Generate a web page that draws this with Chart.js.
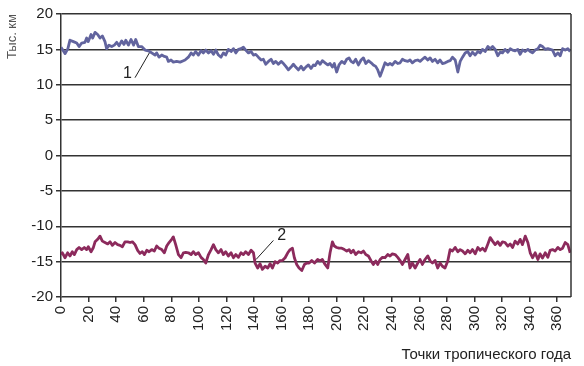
<!DOCTYPE html>
<html>
<head>
<meta charset="utf-8">
<script src="https://cdn.jsdelivr.net/npm/chart.js@4"></script>
<style>
  body { margin: 0; background: #fff; }
  #wrap { width: 584px; height: 366px; }
</style>
</head>
<body>
<div id="wrap"><canvas id="line_chart"></canvas></div>
<script>
// data: [point, thousand km]
const curve1 = [
  [0,15.3],[3,14.4],[5,15.1],[6.5,16.3],[9,16.1],[11.4,15.9],[13.1,15.4],[15,15.9],[17.4,16.0],[18.6,16.6],
  [19.8,16.1],[21.8,17.1],[23,16.6],[24.7,17.4],[26.6,17.1],[28.3,16.6],[30,16.9],[31.9,16.1],[33.1,15.1],[34.8,15.6],
  [36.8,15.4],[38.7,15.6],[40.4,16.0],[42.1,15.5],[44,16.2],[45.7,15.7],[47,16.3],[48.9,15.6],[50.8,16.4],[52.7,15.6],
  [54.2,16.4],[56.1,15.4],[58.5,15.4],[61,14.9],[63.4,14.8],[65.8,14.5],[68.2,14.2],[69.4,14.5],[71.1,13.9],[73.1,14.2],
  [75,14.0],[76.7,13.9],[77.9,13.3],[79.8,13.5],[81.5,13.2],[83.9,13.3],[86.4,13.2],[88.8,13.4],[90,13.5],[92.4,13.9],
  [94.4,14.5],[96,14.2],[97.7,14.7],[99.7,14.2],[101.6,14.8],[103.3,14.5],[105,14.9],[107,14.5],[108.9,14.8],[110.6,14.3],
  [112.3,14.9],[114.2,14.2],[116.1,13.9],[117.8,14.5],[119.5,14.2],[121.4,15.0],[123.4,14.7],[125.1,15.1],[126.8,14.5],[128.7,15.0],
  [130.6,15.1],[132.3,15.3],[134,14.9],[136,14.5],[137.9,14.7],[139.6,14.2],[141.3,14.3],[143.2,13.9],[145.2,13.5],[146.8,13.6],
  [148.5,12.9],[150.5,13.3],[152.4,13.6],[154.1,13.0],[155.8,13.3],[157.7,12.9],[159.7,13.3],[161.4,13.0],[163.1,12.6],[165,12.1],
  [166.9,12.5],[168.6,12.9],[170.3,12.5],[172.2,12.1],[174.2,12.6],[175.9,12.1],[177.6,12.5],[179.5,12.8],[181.4,12.3],[183.1,12.8],
  [184.3,12.7],[186.2,13.3],[188,12.9],[189.6,13.4],[191.6,13.1],[193.5,12.8],[195.2,13.0],[196.9,12.5],[198.3,13.0],[200,11.8],
  [201.7,12.8],[203.7,13.3],[205.6,13.0],[207.3,13.6],[209,13.8],[210.4,13.3],[212.1,13.1],[213.8,13.6],[215.8,12.8],[217.7,13.5],
  [219.4,13.8],[221.1,13.0],[223,13.4],[225,13.1],[226.6,12.8],[228.3,12.6],[229.8,12.1],[231.5,11.2],[233.2,12.1],[235.1,13.1],
  [237,12.8],[238.7,13.0],[240.4,12.8],[242.4,13.3],[244.3,13.0],[246,13.1],[247.7,13.6],[249.6,13.4],[251.6,13.3],[253.2,13.5],
  [254.9,13.1],[256.9,13.4],[258.8,13.5],[260.5,13.3],[262.2,13.6],[264.1,13.9],[266.1,13.5],[267.8,13.8],[269.5,13.3],[271.4,13.6],
  [273.3,13.1],[275,13.5],[276.7,13.0],[278.7,13.1],[280.6,13.3],[282.3,13.4],[284,13.9],[286,13.5],[287.9,11.8],[289.6,13.3],
  [291.3,13.9],[293.2,14.5],[295.1,14.7],[296.8,14.1],[298.5,14.6],[300.5,14.2],[302.4,14.7],[304.1,14.5],[305.8,15.0],[307.7,14.7],
  [309.7,15.4],[311.4,15.1],[313.1,15.4],[315,15.0],[316.9,14.1],[318.6,14.6],[320.3,14.5],[322.2,15.0],[324.2,14.6],[325.9,15.1],
  [327.6,14.9],[329.5,14.8],[331.4,15.0],[333.1,14.3],[334.8,14.9],[336.8,14.7],[338.7,15.0],[340.4,14.7],[342.1,14.5],[344,14.9],
  [346,15.1],[347.6,15.6],[349.3,15.4],[351.3,15.0],[353.2,15.1],[354.9,15.0],[356.6,14.9],[358.5,14.1],[360.5,14.5],[362.2,14.1],
  [363.9,15.1],[365.8,14.9],[367.7,15.1],[369.4,14.7]
];

const curve2 = [
  [0,-14.0],[1,-13.75],[2.9,-14.45],[4.8,-13.75],[6.5,-14.2],[8.2,-13.6],[9.7,-14.0],[11.4,-13.3],[13.1,-13.0],[15,-13.3],
  [16.9,-13.0],[18.6,-13.3],[19.8,-12.9],[21.8,-13.6],[23.5,-13.0],[24.7,-12.2],[26.6,-11.85],[28.3,-11.4],[30,-12.1],[31.9,-12.3],
  [33.9,-12.5],[35.6,-12.2],[37.3,-12.7],[39.2,-12.3],[41.1,-12.6],[42.8,-12.7],[44.5,-12.9],[46.4,-12.2],[48.4,-12.2],[50.1,-12.3],
  [51.8,-12.2],[53.7,-12.6],[55.6,-13.4],[57.3,-13.85],[59,-13.6],[60.5,-14.0],[62.2,-13.4],[63.9,-13.6],[65.8,-13.3],[67.7,-13.5],
  [69.4,-12.8],[71.1,-13.1],[73.1,-13.3],[75,-13.75],[76.7,-12.8],[78.4,-12.3],[80.3,-11.85],[81.5,-11.5],[83.2,-12.6],[85.2,-14.0],
  [87.1,-14.45],[88.8,-13.75],[90.5,-13.7],[92.4,-13.75],[94.4,-14.0],[96,-13.6],[97.7,-14.0],[99.7,-13.75],[101.6,-14.4],[103.3,-14.7],
  [105,-15.2],[107,-14.0],[108.9,-13.3],[110.6,-12.6],[112.3,-13.3],[114.2,-13.75],[116.1,-13.3],[117.8,-14.0],[119.5,-13.6],[121.4,-14.2],
  [123.4,-13.75],[125.1,-14.45],[126.8,-14.0],[128.7,-14.4],[130.6,-13.75],[132.3,-14.0],[134,-13.6],[136,-14.0],[137.9,-13.4],[139.6,-13.75],
  [140.8,-15.2],[142.7,-15.9],[144.4,-15.3],[146.1,-16.1],[148.1,-15.65],[150,-15.9],[151.7,-15.3],[153.4,-15.9],[155.3,-15.0],[157.2,-15.2],
  [158.9,-14.85],[160.6,-14.85],[162.6,-14.45],[164.5,-13.75],[166.2,-13.3],[167.9,-13.1],[169.3,-14.45],[171,-15.4],[172.7,-15.9],[174.7,-16.25],
  [176.6,-15.4],[178.3,-15.2],[180,-15.2],[181.9,-14.85],[183.9,-15.2],[186.2,-14.7],[188,-14.9],[189.6,-14.7],[191.6,-15.4],[193.5,-15.9],
  [195.2,-13.75],[196.9,-12.2],[198.3,-12.8],[200,-13.0],[201.7,-13.1],[203.7,-13.1],[205.6,-13.3],[207.3,-13.5],[209,-13.3],[210.4,-13.75],
  [212.1,-13.4],[213.8,-14.0],[215.8,-13.6],[217.7,-13.75],[219.4,-13.5],[221.1,-14.0],[223,-14.2],[225,-14.9],[226.6,-15.4],[228.3,-14.9],
  [229.8,-15.4],[231.5,-14.7],[233.2,-14.4],[235.1,-14.45],[237,-14.0],[238.7,-14.2],[240.4,-13.9],[242.4,-14.0],[244.3,-14.4],[246,-14.85],
  [247.7,-15.4],[249.6,-14.7],[251.6,-14.0],[253.2,-15.9],[254.9,-15.2],[256.9,-15.9],[258.8,-15.2],[260.5,-14.7],[262.2,-15.4],[264.1,-14.7],
  [266.1,-14.2],[267.8,-14.9],[269.5,-15.2],[271.4,-14.85],[273.3,-15.9],[275,-15.2],[276.7,-15.65],[278.6,-15.9],[280.6,-14.9],[282.3,-13.3],
  [284,-13.5],[286,-13.0],[287.9,-13.6],[289.6,-13.3],[291.3,-13.5],[293.2,-13.9],[295.1,-13.4],[296.8,-13.75],[298.5,-13.3],[300.5,-13.9],
  [302.4,-13.0],[304.1,-13.4],[305.8,-13.1],[307.7,-13.5],[309.7,-12.5],[311.4,-11.6],[313.1,-12.1],[315,-12.6],[316.9,-12.2],[318.6,-12.7],
  [320.3,-12.2],[322.2,-12.3],[324.2,-12.8],[325.9,-12.5],[327.6,-13.0],[329.5,-12.1],[331.4,-12.5],[333.1,-11.85],[334.8,-12.6],[336.8,-11.4],
  [338.7,-12.3],[340.4,-13.75],[342.1,-14.45],[344,-13.75],[346,-14.7],[347.6,-13.9],[349.3,-14.5],[351.3,-13.75],[353.2,-14.4],[354.9,-13.4],
  [356.6,-13.3],[358.5,-13.5],[360.5,-13.0],[362.2,-13.3],[363.9,-13.1],[365.8,-12.3],[367.7,-12.6],[369.4,-13.75]
];

const xTicks = [0,20,40,60,80,100,120,140,160,180,200,220,240,260,280,300,320,340,360];
const yTicks = [-20,-15,-10,-5,0,5,10,15,20];

// curve labels with leader lines, in data units: [text, textX, textY, fromX, fromY, toX, toY]
const curveLabels = [
  ["1", 51.5, 11.6, 53.7, 11.0, 64.1, 14.5],
  ["2", 156.8, -11.3, 154.1, -12.0, 141.5, -14.7]
];

const FONT = 'Arial, "Liberation Sans", sans-serif';

const labelPlugin = {
  id: 'curveLabels',
  afterDatasetsDraw(chart) {
    const ctx = chart.ctx, xs = chart.scales.x, ys = chart.scales.y;
    const area = chart.chartArea;
    ctx.save();
    // right frame line
    ctx.strokeStyle = '#333';
    ctx.lineWidth = 1.5;
    ctx.beginPath();
    ctx.moveTo(area.right, area.top);
    ctx.lineTo(area.right, area.bottom);
    ctx.stroke();

    ctx.lineWidth = 1;
    ctx.strokeStyle = '#222';
    ctx.fillStyle = '#222';
    ctx.font = '16px ' + FONT;
    ctx.textBaseline = 'middle';
    curveLabels.forEach(l => {
      ctx.beginPath();
      ctx.moveTo(xs.getPixelForValue(l[3]), ys.getPixelForValue(l[4]));
      ctx.lineTo(xs.getPixelForValue(l[5]), ys.getPixelForValue(l[6]));
      ctx.stroke();
      ctx.textAlign = l[0] === "1" ? 'right' : 'left';
      ctx.fillText(l[0], xs.getPixelForValue(l[1]), ys.getPixelForValue(l[2]));
    });
    ctx.restore();
  }
};

function toPoints(arr) {
  return arr.map(p => ({ x: p[0], y: p[1] }));
}

new Chart(document.getElementById('line_chart').getContext('2d'), {
  type: 'line',
  data: {
    datasets: [{
      label: '1',
      data: toPoints(curve1),
      borderColor: '#62649e',
      borderWidth: 2.8,
      pointRadius: 0,
      tension: 0,
      borderJoinStyle: 'round'
    }, {
      label: '2',
      data: toPoints(curve2),
      borderColor: '#8c2a5c',
      borderWidth: 2.8,
      pointRadius: 0,
      tension: 0,
      borderJoinStyle: 'round'
    }]
  },
  options: {
    responsive: true,
    maintainAspectRatio: false,
    animation: false,
    layout: { padding: { left: 5, right: 13, top: 14, bottom: 0 } },
    plugins: { legend: { display: false }, tooltip: { enabled: false } },
    scales: {
      x: {
        type: 'linear',
        min: 0,
        max: 370,
        afterBuildTicks: axis => { axis.ticks = xTicks.map(v => ({ value: v })); },
        afterFit: scale => { scale.height = 69; },
        ticks: {
          autoSkip: false,
          minRotation: 90,
          maxRotation: 90,
          color: '#222',
          padding: 4,
          font: { family: FONT, size: 15 }
        },
        grid: {
          drawOnChartArea: false,
          color: '#333',
          lineWidth: 1.5,
          tickLength: 5
        },
        border: { display: false },
        title: {
          display: true,
          text: 'Точки тропического года',
          align: 'end',
          color: '#222',
          font: { family: FONT, size: 15 },
          padding: { top: 0, bottom: 2 }
        }
      },
      y: {
        min: -20,
        max: 20,
        afterBuildTicks: axis => { axis.ticks = yTicks.map(v => ({ value: v })); },
        afterFit: scale => { scale.width = 56; },
        ticks: {
          color: '#222',
          padding: 3,
          font: { family: FONT, size: 15 }
        },
        grid: {
          color: '#333',
          lineWidth: 1.5,
          tickLength: 5
        },
        border: { display: true, color: '#333', width: 1.5 },
        title: {
          display: true,
          text: 'Тыс. км',
          align: 'end',
          color: '#555',
          font: { family: FONT, size: 13 },
          padding: { top: 0, bottom: 0 }
        }
      }
    }
  },
  plugins: [labelPlugin]
});
</script>
</body>
</html>
